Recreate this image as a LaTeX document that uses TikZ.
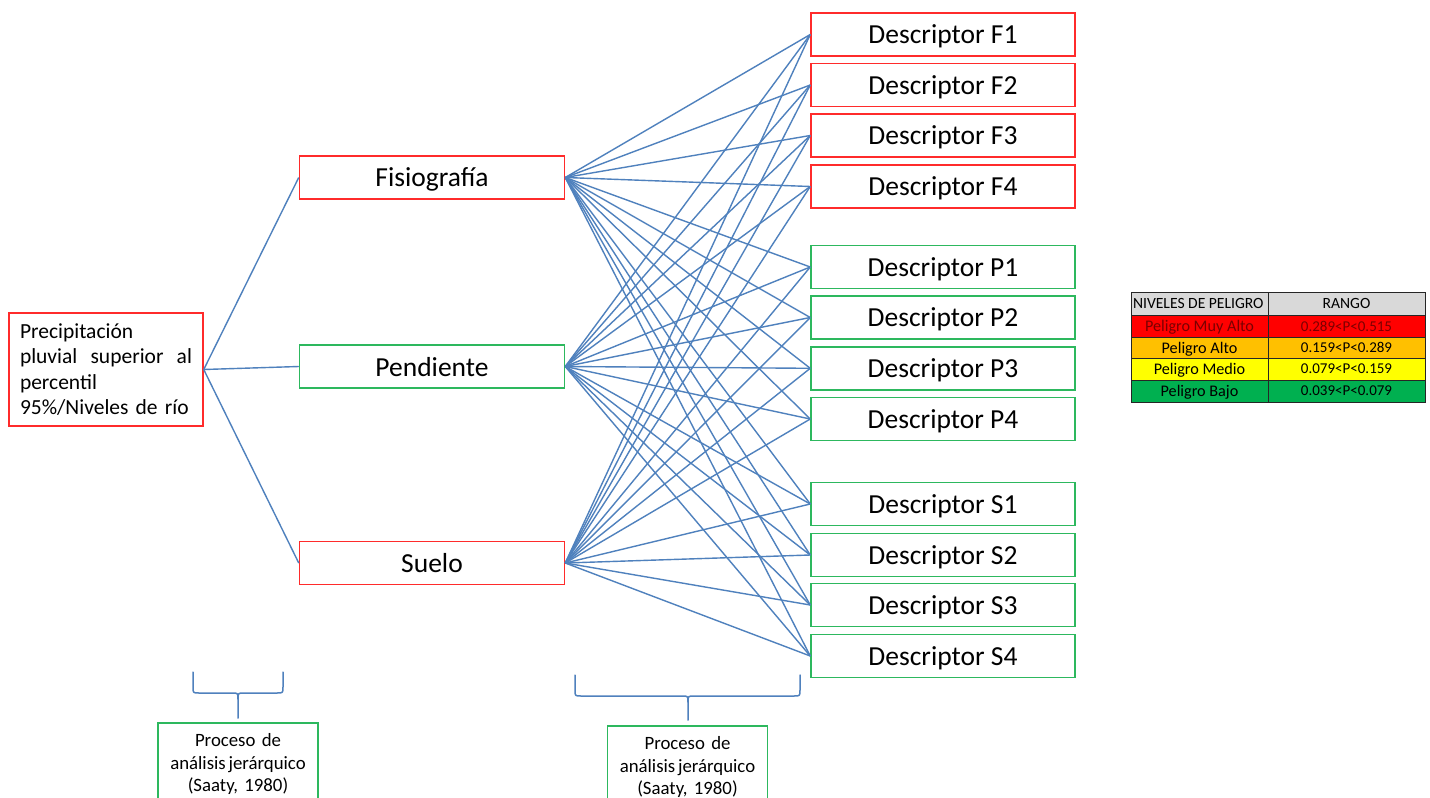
\documentclass[tikz,border=0pt]{standalone}
\usepackage{fontspec}
\setmainfont{Carlito}
\definecolor{lineblue}{HTML}{4F81BD}
\definecolor{boxred}{HTML}{FF2B2B}
\definecolor{boxgreen}{HTML}{2DB85E}
\definecolor{hdrgray}{HTML}{D9D9D9}
\definecolor{cred}{HTML}{FF0000}
\definecolor{corange}{HTML}{FFC000}
\definecolor{cyellow}{HTML}{FFFF00}
\definecolor{cgreen}{HTML}{00B050}
\definecolor{darkred}{HTML}{7A0000}
\tikzset{
  basebox/.style={draw, line width=1.5pt, inner sep=0pt, text=black},
  descbox/.style={basebox, minimum width=264pt, minimum height=43pt, text depth=0pt, font=\fontsize{27.5}{33}\selectfont},
  midbox/.style={basebox, minimum width=265pt, minimum height=43pt, text depth=0pt, font=\fontsize{27.5}{33}\selectfont},
  redb/.style={draw=boxred},
  greenb/.style={draw=boxgreen},
  link/.style={draw=lineblue, line width=1.4pt},
  bracepath/.style={draw=lineblue, line width=1.5pt, line cap=round, line join=round},
  ahpbox/.style={draw=boxgreen, line width=1.7pt, anchor=north, minimum width=160pt, text width=150pt, align=center, inner xsep=5pt, inner ysep=11pt, font=\fontsize{18.8}{22.5}\selectfont},
  cell/.style={draw=black!85, line width=0.8pt, inner sep=0pt, text depth=0pt},
  lblfont/.style={font=\fontsize{16.2}{18}\selectfont},
  numfont/.style={font=\fontsize{15}{18}\selectfont},
}
\newcommand{\ahptext}{Proceso de\\análisis\hspace{0.15em}jerárquico\\(Saaty, 1980)}
\begin{document}
\begin{tikzpicture}[x=1pt,y=-1pt]
\clip (0,0) rectangle (1430,798);
\fill[white] (0,0) rectangle (1430,798);

% left node
\node[basebox, redb, minimum width=194pt, minimum height=113pt, text width=172pt, align=left, inner xsep=11pt,
      font=\fontsize{21.5}{25.3}\selectfont] (prec) at (106,369.5)
  {Precipitación\\\leavevmode\hbox to 172pt{pluvial\hfill superior\hfill al}\\percentil\\95\%/Niveles de río};

% middle nodes
\node[midbox, redb] (fis) at (432,177.5) {Fisiografía};
\node[midbox, greenb] (pen) at (432,366.5) {Pendiente};
\node[midbox, redb] (sue) at (432,563) {Suelo};

% descriptors
\node[descbox, redb] (dF1) at (943,34.5) {Descriptor F1};
\node[descbox, redb] (dF2) at (943,85) {Descriptor F2};
\node[descbox, redb] (dF3) at (943,135.5) {Descriptor F3};
\node[descbox, redb] (dF4) at (943,186.5) {Descriptor F4};
\node[descbox, greenb] (dP1) at (943,267) {Descriptor P1};
\node[descbox, greenb] (dP2) at (943,317.5) {Descriptor P2};
\node[descbox, greenb] (dP3) at (943,368.3) {Descriptor P3};
\node[descbox, greenb] (dP4) at (943,419) {Descriptor P4};
\node[descbox, greenb] (dS1) at (943,504) {Descriptor S1};
\node[descbox, greenb] (dS2) at (943,555) {Descriptor S2};
\node[descbox, greenb] (dS3) at (943,605) {Descriptor S3};
\node[descbox, greenb] (dS4) at (943,656) {Descriptor S4};

% connectors
\foreach \m in {fis,pen,sue}{
  \draw[link] (prec.east) -- (\m.west);
  \foreach \d in {F1,F2,F3,F4,P1,P2,P3,P4,S1,S2,S3,S4}{
    \draw[link] (\m.east) -- (d\d.west);
  }
}

% braces
\draw[bracepath] (193,672) -- (193,687) .. controls (193,693) .. (199,693) -- (232,693) .. controls (238,693) .. (238,699) -- (238,718);
\draw[bracepath] (283,672) -- (283,687) .. controls (283,693) .. (277,693) -- (244,693) .. controls (238,693) .. (238,699);
\draw[bracepath] (575,675) -- (575,690) .. controls (575,696) .. (581,696) -- (682,696) .. controls (688,696) .. (688,702) -- (688,720);
\draw[bracepath] (800,675) -- (800,690) .. controls (800,696) .. (794,696) -- (694,696) .. controls (688,696) .. (688,702);

% AHP boxes
\node[ahpbox] (ahp1) at (238,722) {\ahptext};
\node[ahpbox, minimum width=159pt] (ahp2) at (687.5,725) {\ahptext};

% table
\node[cell, fill=hdrgray, minimum width=137pt, minimum height=23pt, font=\fontsize{15.6}{18}\selectfont] (h1) at (1199.5,303.5) {\makebox[133pt][l]{NIVELES DE PELIGRO}};
\node[cell, fill=hdrgray, minimum width=157pt, minimum height=23pt, font=\fontsize{15.6}{18}\selectfont] (h2) at (1346.5,303.5) {RANGO};
\node[cell, lblfont, fill=cred, text=darkred, minimum width=137pt, minimum height=22pt] (r1a) at (1199.5,326) {Peligro Muy Alto};
\node[cell, numfont, fill=cred, text=darkred, minimum width=157pt, minimum height=22pt] (r1b) at (1346.5,326) {0.289<P<0.515};
\node[cell, lblfont, fill=corange, minimum width=137pt, minimum height=21pt] (r2a) at (1199.5,347.5) {Peligro Alto};
\node[cell, numfont, fill=corange, minimum width=157pt, minimum height=21pt] (r2b) at (1346.5,347.5) {0.159<P<0.289};
\node[cell, lblfont, fill=cyellow, minimum width=137pt, minimum height=22pt] (r3a) at (1199.5,369) {Peligro Medio};
\node[cell, numfont, fill=cyellow, minimum width=157pt, minimum height=22pt] (r3b) at (1346.5,369) {0.079<P<0.159};
\node[cell, lblfont, fill=cgreen, minimum width=137pt, minimum height=22pt] (r4a) at (1199.5,391) {Peligro Bajo};
\node[cell, numfont, fill=cgreen, minimum width=157pt, minimum height=22pt] (r4b) at (1346.5,391) {0.039<P<0.079};
\end{tikzpicture}
\end{document}
